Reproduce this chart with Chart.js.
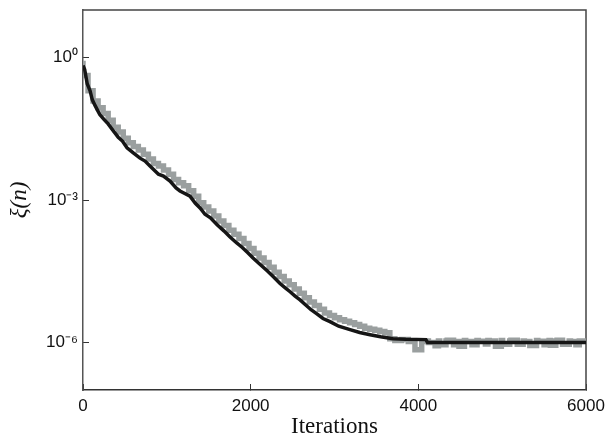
<!DOCTYPE html>
<html>
<head>
<meta charset="utf-8">
<script src="https://cdn.jsdelivr.net/npm/chart.js@4.4.0/dist/chart.umd.min.js"></script>
<style>
html, body { margin: 0; padding: 0; background: #fff; }
</style>
</head>
<body>
<canvas id="canvas" width="610" height="441"></canvas>
<script>
// black curve (smoothed error)
var blackIter = [0, 20, 50, 84, 110, 143, 200, 250, 300, 358, 420, 470, 525, 600, 680, 740, 799, 900, 960, 1038, 1110, 1157, 1220, 1276, 1340, 1396, 1455, 1520, 1600, 1680, 1754, 1830, 1900, 1960, 2028, 2100, 2200, 2280, 2350, 2420, 2470, 2530, 2589, 2650, 2720, 2790, 2863, 2946, 3050, 3185, 3300, 3424, 3550, 3698, 3850, 4090, 4110, 4500, 5000, 5500, 6000];
var blackVal = [0.68, 0.56, 0.28, 0.2, 0.13, 0.098, 0.063, 0.05, 0.04, 0.029, 0.021, 0.0174, 0.0126, 0.0098, 0.0076, 0.0066, 0.0052, 0.0035, 0.0032, 0.0025, 0.0018, 0.00155, 0.00135, 0.0012, 0.00085, 0.00068, 0.0005, 0.00042, 0.0003, 0.000224, 0.000166, 0.000126, 0.0001, 0.000079, 0.00006, 0.000046, 0.000032, 0.0000234, 0.0000174, 0.0000138, 0.0000117, 0.0000095, 0.0000079, 0.0000063, 0.0000049, 0.000004, 0.0000032, 0.00000275, 0.0000022, 0.00000186, 0.00000162, 0.00000146, 0.00000132, 0.0000012, 0.00000117, 0.00000115, 0.000001, 0.000001, 0.000001, 0.000001, 0.000001];

// grey curve (raw, noisy, drawn as steps)
var grayIter = [0, 60, 120, 180, 240, 300, 360, 420, 480, 540, 600, 660, 720, 780, 840, 900, 960, 1020, 1080, 1140, 1200, 1260, 1320, 1380, 1440, 1500, 1560, 1620, 1680, 1740, 1800, 1860, 1920, 1980, 2040, 2100, 2160, 2220, 2280, 2340, 2400, 2460, 2520, 2580, 2640, 2700, 2760, 2820, 2880, 2940, 3000, 3060, 3120, 3180, 3240, 3300, 3360, 3420, 3480, 3540, 3600, 3660,
  3720, 3800, 3880, 3960, 4040, 4055, 4120, 4200, 4240, 4255, 4330, 4345, 4420, 4470, 4485, 4550, 4565, 4640, 4700, 4715, 4800, 4830, 4845, 4920, 4990, 5005, 5090, 5105, 5180, 5250, 5265, 5330, 5410, 5425, 5500, 5560, 5575, 5640, 5655, 5720, 5800, 5815, 5880, 5920, 5935, 6000];
var grayVal = [0.85, 0.42, 0.2, 0.122, 0.087, 0.066, 0.048, 0.034, 0.027, 0.02, 0.016, 0.0133, 0.0113, 0.0092, 0.0073, 0.0059, 0.0052, 0.0043, 0.0035, 0.0027, 0.0023, 0.002, 0.00157, 0.0012, 0.00088, 0.00071, 0.00059, 0.00046, 0.00036, 0.00029, 0.00023, 0.00019, 0.000154, 0.000122, 0.000095, 0.000076, 0.00006, 0.0000486, 0.0000385, 0.00003, 0.0000244, 0.0000197, 0.0000164, 0.0000133, 0.0000109, 0.0000087, 0.0000071, 0.000006, 0.000005, 0.0000042, 0.0000037, 0.0000033, 0.000003, 0.0000028, 0.0000026, 0.0000024, 0.0000022, 0.000002, 0.0000019, 0.0000018, 0.0000017, 0.0000016,
  1.2e-6, 1.1e-6, 1.15e-6, 1.05e-6, 7e-7, 1.05e-6, 1.08e-6, 1.0e-6, 8.5e-7, 1.08e-6, 9e-7, 1.08e-6, 1.12e-6, 9e-7, 1.05e-6, 8.3e-7, 1.1e-6, 1.05e-6, 9e-7, 1.1e-6, 1.06e-6, 9.3e-7, 1.1e-6, 1.08e-6, 8.3e-7, 1.1e-6, 9.2e-7, 1.08e-6, 1.12e-6, 9.2e-7, 1.08e-6, 1.05e-6, 8.6e-7, 1.1e-6, 1.06e-6, 9e-7, 1.1e-6, 8.8e-7, 1.08e-6, 1.12e-6, 9.2e-7, 1.08e-6, 1.05e-6, 9e-7, 1.08e-6, 1.08e-6];

var yTicks = [1e-6, 1e-3, 1];
var xTicks = [0, 2000, 4000, 6000];

function pts(xs, ys) {
	return xs.map(function (x, i) { return {x: x, y: ys[i]}; });
}

var SUP = {'0': '\u2070', '1': '\u00b9', '2': '\u00b2', '3': '\u00b3', '4': '\u2074', '5': '\u2075', '6': '\u2076', '7': '\u2077', '8': '\u2078', '9': '\u2079', '-': '\u207b'};
function powLabel(v) {
	var e = String(Math.round(Math.log10(v)));
	return '10' + e.split('').map(function (c) { return SUP[c]; }).join('');
}

// top + right edges of the box
var framePlugin = {
	id: 'frame',
	beforeDatasetsDraw: function (chart) {
		var a = chart.chartArea, c = chart.ctx;
		c.save();
		c.strokeStyle = '#444';
		c.lineWidth = 1.5;
		c.beginPath();
		c.moveTo(a.left, a.top);
		c.lineTo(a.right, a.top);
		c.lineTo(a.right, a.bottom);
		c.stroke();
		c.restore();
	}
};

var ctx = document.getElementById('canvas').getContext('2d');
window.myChart = new Chart(ctx, {
	type: 'line',
	data: {
		datasets: [{
			label: 'smoothed',
			data: pts(blackIter, blackVal),
			borderColor: '#151515',
			borderWidth: 3.5,
			pointRadius: 0,
			tension: 0,
			fill: false,
			order: 0
		}, {
			label: 'raw',
			data: pts(grayIter, grayVal),
			borderColor: '#9a9f9f',
			borderWidth: 5.5,
			borderJoinStyle: 'miter',
			borderCapStyle: 'butt',
			stepped: 'after',
			pointRadius: 0,
			fill: false,
			order: 1
		}]
	},
	options: {
		responsive: false,
		animation: false,
		layout: { autoPadding: false, padding: { top: 10, right: 24, left: 0, bottom: 0 } },
		plugins: { legend: { display: false }, tooltip: { enabled: false } },
		scales: {
			x: {
				type: 'linear',
				min: 0,
				max: 6000,
				afterBuildTicks: function (s) { s.ticks = xTicks.map(function (v) { return {value: v}; }); },
				afterFit: function (s) { s.height = 51; s.paddingLeft = 0; s.paddingRight = 0; },
				ticks: {
					color: '#111',
					padding: 12,
					maxRotation: 0,
					font: { family: 'Liberation Sans', size: 17 },
					callback: function (v) { return String(v); }
				},
				grid: { drawOnChartArea: false, tickLength: -6, color: '#333', lineWidth: 1 },
				border: { display: true, color: '#333', width: 1.5 },
				title: {
					display: true,
					text: 'Iterations',
					color: '#111',
					padding: { top: 0, bottom: 0 },
					font: { family: 'Liberation Serif', size: 23 }
				}
			},
			y: {
				type: 'logarithmic',
				min: 1e-7,
				max: 10,
				afterBuildTicks: function (s) { s.ticks = yTicks.map(function (v) { return {value: v}; }); },
				afterFit: function (s) { s.width = 83; s.paddingTop = 0; s.paddingBottom = 0; },
				ticks: {
					color: '#111',
					padding: 11,
					font: { family: 'Liberation Sans', size: 17 },
					callback: function (v) { return powLabel(v); }
				},
				grid: { drawOnChartArea: false, tickLength: -6, color: '#333', lineWidth: 1 },
				border: { display: true, color: '#555', width: 1.5 },
				title: {
					display: true,
					text: '\u03be(n)',
					color: '#111',
					padding: { top: 6, bottom: 0 },
					font: { family: 'Liberation Serif', size: 23, style: 'italic' }
				}
			}
		}
	},
	plugins: [framePlugin]
});
</script>
</body>
</html>
